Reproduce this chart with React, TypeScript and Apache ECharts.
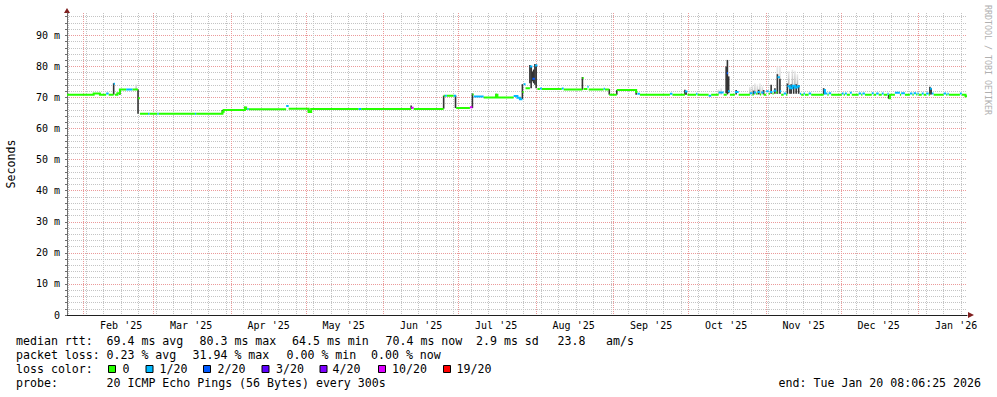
import React, { useEffect, useRef } from 'react';
import * as echarts from 'echarts';

// ---------- helpers ----------
const T = (s: string): number => {
  const [d, hm = '00:00'] = s.split(' ');
  const [Y, M, D] = d.split('-').map(Number);
  const [h, m] = hm.split(':').map(Number);
  return Date.UTC(Y, M - 1, D, h, m);
};
const DAY = 86400000;

// ---------- axis data ----------
const START = '2025-01-25 08:06';
const END = '2026-01-20 08:06';
const monthStarts = ['2025-02-01', '2025-03-01', '2025-04-01', '2025-05-01', '2025-06-01', '2025-07-01',
  '2025-08-01', '2025-09-01', '2025-10-01', '2025-11-01', '2025-12-01', '2026-01-01'];
const monthLabels = ["Feb '25", "Mar '25", "Apr '25", "May '25", "Jun '25", "Jul '25",
  "Aug '25", "Sep '25", "Oct '25", "Nov '25", "Dec '25", "Jan '26"];
const firstWeekLine = '2025-01-26';
const Y_MAX = 97.2;

// ---------- loss colours ----------
const lossLevels = [0, 1, 2, 3, 4, 10, 19];
const lossColors = ['#26ff00', '#00b8ff', '#0059ff', '#5e00ff', '#7e00ff', '#dd00ff', '#ff0000'];
const lossLabels = ['0', '1/20', '2/20', '3/20', '4/20', '10/20', '19/20'];

// ---------- median rtt steps [from, ms, lost pings] ----------
const medianWinter: [string, number, number][] = [
  ['2025-01-25 08:06', 70.9, 0], ['2025-02-05 00:00', 71.3, 0], ['2025-02-07 12:00', 70.9, 0],
  ['2025-02-10 00:00', 71.3, 1], ['2025-02-11 00:00', 70.9, 0], ['2025-02-13 00:00', 74.4, 1],
  ['2025-02-13 12:00', 70.9, 0], ['2025-02-14 12:00', 71.4, 0], ['2025-02-15 12:00', 72.6, 0],
  ['2025-02-18 00:00', 72.6, 1], ['2025-02-20 12:00', 72.6, 0], ['2025-02-22 18:00', 69.8, 0],
  ['2025-02-23 12:00', 64.8, 0], ['2025-02-26 18:00', 64.8, 1], ['2025-02-27 06:00', 64.8, 0],
  ['2025-03-02 12:00', 64.8, 1], ['2025-03-03 00:00', 64.8, 0], ['2025-03-17 12:00', 64.8, 1],
  ['2025-03-18 00:00', 64.8, 0], ['2025-03-28 12:00', 65.4, 0], ['2025-03-29 00:00', 66.0, 0],
];
const medianSpring: [string, number, number][] = [
  ['2025-04-06 12:00', 66.8, 0], ['2025-04-07 00:00', 66.3, 0], ['2025-04-07 12:00', 66.3, 1],
  ['2025-04-08 00:00', 66.2, 0], ['2025-04-23 00:00', 67.3, 1], ['2025-04-24 00:00', 66.4, 0],
  ['2025-05-02 00:00', 65.3, 0], ['2025-05-03 00:00', 66.3, 0], ['2025-05-22 00:00', 66.3, 1],
  ['2025-05-23 00:00', 66.3, 0], ['2025-06-12 00:00', 66.7, 10], ['2025-06-13 00:00', 66.3, 0],
  ['2025-06-25 00:00', 70.6, 0], ['2025-06-25 12:00', 70.6, 1], ['2025-06-26 06:00', 70.6, 0],
  ['2025-06-29 00:00', 70.6, 1], ['2025-06-30 00:00', 66.6, 0],
];
const medianSummer: [string, number, number][] = [
  ['2025-07-05 12:00', 66.9, 10], ['2025-07-06 12:00', 71.0, 0], ['2025-07-07 00:00', 70.3, 1],
  ['2025-07-11 00:00', 70.0, 0], ['2025-07-16 00:00', 70.9, 0], ['2025-07-16 12:00', 70.0, 0],
  ['2025-07-23 00:00', 70.5, 1], ['2025-07-24 12:00', 69.9, 1], ['2025-07-25 12:00', 69.4, 1],
  ['2025-07-26 12:00', 71.8, 0], ['2025-07-27 00:00', 74.3, 1], ['2025-07-27 18:00', 73.0, 0],
  ['2025-07-29 12:00', 80.0, 1], ['2025-07-30 12:00', 76.0, 2], ['2025-07-31 12:00', 80.3, 1],
  ['2025-08-01 12:00', 72.7, 0], ['2025-08-02 12:00', 72.9, 1], ['2025-08-03 06:00', 72.7, 0],
  ['2025-08-11 06:00', 72.9, 1], ['2025-08-12 00:00', 72.6, 0], ['2025-08-19 12:00', 76.3, 0],
  ['2025-08-20 00:00', 72.7, 0], ['2025-08-21 12:00', 73.5, 1], ['2025-08-22 00:00', 72.6, 0],
  ['2025-08-28 00:00', 72.8, 1], ['2025-08-28 12:00', 72.6, 0], ['2025-08-30 06:00', 70.9, 0],
  ['2025-09-02 06:00', 72.4, 0], ['2025-09-10 00:00', 71.8, 0], ['2025-09-10 12:00', 71.2, 1],
  ['2025-09-11 12:00', 70.9, 0],
];
const medianAutumn: [string, number, number][] = [
  ['2025-09-23 12:00', 71.2, 1], ['2025-09-24 12:00', 70.9, 0], ['2025-09-29 12:00', 71.9, 1],
  ['2025-09-30 12:00', 70.9, 0], ['2025-10-04 00:00', 71.2, 1], ['2025-10-04 12:00', 70.9, 0],
  ['2025-10-09 00:00', 70.6, 1], ['2025-10-10 00:00', 70.9, 0], ['2025-10-13 00:00', 71.6, 1],
  ['2025-10-15 00:00', 70.9, 0], ['2025-10-16 06:00', 77.8, 2], ['2025-10-16 18:00', 72.0, 1],
  ['2025-10-17 12:00', 70.9, 0], ['2025-10-19 12:00', 71.8, 1], ['2025-10-21 00:00', 70.9, 0],
  ['2025-10-25 12:00', 71.4, 1], ['2025-10-26 12:00', 70.9, 0], ['2025-10-27 00:00', 71.6, 1],
  ['2025-10-28 00:00', 71.2, 0], ['2025-10-28 12:00', 71.8, 1], ['2025-10-29 12:00', 71.0, 0],
  ['2025-10-30 00:00', 71.6, 1], ['2025-10-31 00:00', 70.9, 0], ['2025-11-01 00:00', 72.0, 1],
  ['2025-11-02 00:00', 71.2, 0], ['2025-11-02 12:00', 71.8, 1], ['2025-11-03 12:00', 71.3, 0],
  ['2025-11-04 00:00', 72.2, 1], ['2025-11-05 00:00', 71.6, 0], ['2025-11-05 12:00', 76.5, 1],
  ['2025-11-06 12:00', 72.0, 1], ['2025-11-07 00:00', 70.9, 0], ['2025-11-08 00:00', 71.3, 1],
  ['2025-11-09 00:00', 70.9, 0], ['2025-11-09 12:00', 73.6, 1], ['2025-11-10 12:00', 73.0, 1],
  ['2025-11-11 12:00', 73.8, 1], ['2025-11-12 12:00', 73.2, 1], ['2025-11-13 12:00', 73.6, 1],
  ['2025-11-14 12:00', 71.2, 1], ['2025-11-15 00:00', 70.9, 0], ['2025-11-16 00:00', 71.3, 1],
  ['2025-11-16 12:00', 70.9, 0], ['2025-11-18 00:00', 71.3, 1], ['2025-11-19 00:00', 70.9, 0],
  ['2025-11-24 00:00', 72.4, 1], ['2025-11-24 12:00', 71.3, 1], ['2025-11-25 12:00', 70.9, 0],
  ['2025-11-26 00:00', 71.4, 1], ['2025-11-27 00:00', 70.9, 0],
];
const medianWinter2: [string, number, number][] = [
  ['2025-12-01 06:00', 71.3, 1], ['2025-12-02 00:00', 70.9, 0], ['2025-12-02 12:00', 71.3, 1],
  ['2025-12-03 06:00', 70.9, 0], ['2025-12-04 12:00', 71.5, 1], ['2025-12-05 06:00', 70.9, 0],
  ['2025-12-08 00:00', 71.3, 1], ['2025-12-09 00:00', 70.9, 0], ['2025-12-09 12:00', 71.3, 1],
  ['2025-12-10 12:00', 70.9, 0], ['2025-12-13 06:00', 71.4, 1], ['2025-12-14 00:00', 70.9, 0],
  ['2025-12-15 00:00', 71.3, 1], ['2025-12-16 00:00', 70.9, 0], ['2025-12-17 06:00', 71.3, 1],
  ['2025-12-18 00:00', 70.9, 0], ['2025-12-19 12:00', 71.2, 1], ['2025-12-20 00:00', 69.8, 0],
  ['2025-12-20 12:00', 70.9, 0], ['2025-12-22 12:00', 71.5, 1], ['2025-12-24 12:00', 70.9, 0],
  ['2025-12-25 00:00', 71.4, 1], ['2025-12-26 12:00', 70.9, 0], ['2025-12-28 12:00', 71.3, 1],
  ['2025-12-29 12:00', 70.9, 0], ['2025-12-30 00:00', 71.4, 1], ['2025-12-31 00:00', 71.0, 0],
  ['2025-12-31 12:00', 71.3, 1], ['2026-01-01 00:00', 70.9, 0], ['2026-01-02 06:00', 71.3, 1],
  ['2026-01-03 00:00', 70.9, 0], ['2026-01-04 00:00', 71.3, 1], ['2026-01-05 00:00', 70.9, 0],
  ['2026-01-05 12:00', 72.8, 1], ['2026-01-06 06:00', 71.3, 1], ['2026-01-07 00:00', 70.9, 0],
  ['2026-01-11 00:00', 71.3, 1], ['2026-01-12 00:00', 70.9, 0], ['2026-01-12 12:00', 71.2, 1],
  ['2026-01-13 00:00', 70.9, 0], ['2026-01-17 12:00', 71.3, 1], ['2026-01-18 06:00', 70.9, 0],
  ['2026-01-19 18:00', 70.4, 0],
];

// ---------- smoke [time, low ms, high ms] ----------
const smokeDark: [string, number, number][] = [
  ['2025-02-13 00:00', 70.9, 74.6], ['2025-02-15 12:00', 70.9, 72.6], ['2025-02-22 18:00', 64.8, 72.6],
  ['2025-03-28 12:00', 64.8, 66.0], ['2025-04-06 12:00', 66.0, 67.0], ['2025-05-02 00:00', 65.2, 66.3],
  ['2025-06-12 00:00', 66.3, 67.4], ['2025-06-25 00:00', 66.4, 70.6], ['2025-06-29 18:00', 66.6, 70.6],
  ['2025-07-06 12:00', 66.6, 71.3], ['2025-07-16 00:00', 70.0, 71.2], ['2025-07-26 12:00', 69.5, 74.3],
  ['2025-07-29 12:00', 74.6, 80.5], ['2025-07-30 00:00', 73.0, 80.0], ['2025-07-30 12:00', 75.2, 78.4],
  ['2025-07-31 00:00', 74.6, 79.0], ['2025-07-31 12:00', 74.1, 80.8], ['2025-08-01 00:00', 73.0, 80.6],
  ['2025-08-19 12:00', 72.5, 76.6], ['2025-08-30 06:00', 70.9, 72.7], ['2025-09-02 06:00', 70.9, 72.4],
  ['2025-09-10 00:00', 70.9, 72.5], ['2025-09-29 12:00', 70.9, 72.5], ['2025-09-30 00:00', 70.9, 71.9],
  ['2025-10-16 00:00', 71.4, 80.0], ['2025-10-16 12:00', 71.0, 82.1], ['2025-10-17 00:00', 71.4, 76.8],
  ['2025-10-20 00:00', 71.0, 72.4], ['2025-10-27 00:00', 71.0, 72.2], ['2025-10-29 00:00', 71.0, 72.5],
  ['2025-10-31 00:00', 71.0, 72.4], ['2025-11-03 00:00', 71.2, 74.1], ['2025-11-04 12:00', 71.2, 73.0],
  ['2025-11-05 12:00', 71.2, 77.5], ['2025-11-06 12:00', 71.2, 76.0], ['2025-11-09 12:00', 71.2, 74.5],
  ['2025-11-10 12:00', 71.2, 74.0], ['2025-11-11 00:00', 71.2, 74.3], ['2025-11-12 00:00', 71.2, 74.0],
  ['2025-11-13 00:00', 71.2, 74.3], ['2025-11-14 00:00', 71.2, 74.0], ['2025-11-24 00:00', 71.0, 73.0],
  ['2025-12-20 00:00', 69.6, 70.9], ['2026-01-05 12:00', 71.0, 73.5], ['2026-01-06 00:00', 71.0, 73.0],
];
const smokeLight: [string, number, number][] = [
  ['2025-02-22 00:00', 72.6, 74.3], ['2025-10-13 00:00', 71.0, 72.6], ['2025-10-14 00:00', 71.0, 73.0],
  ['2025-10-25 12:00', 71.0, 73.5], ['2025-10-26 12:00', 71.0, 74.0], ['2025-10-27 12:00', 71.0, 74.6],
  ['2025-10-28 12:00', 71.0, 74.2], ['2025-10-29 12:00', 71.0, 74.6], ['2025-10-30 12:00', 71.0, 73.6],
  ['2025-11-05 12:00', 71.2, 80.0], ['2025-11-06 12:00', 71.2, 80.0], ['2025-11-10 00:00', 74.0, 78.5],
  ['2025-11-11 12:00', 74.0, 79.0], ['2025-11-12 12:00', 74.0, 78.6], ['2025-11-13 12:00', 74.0, 77.5],
];

// ---------- legend texts ----------
const rttLabel = 'median rtt:';
const rttStats = ['69.4 ms avg', '80.3 ms max', '64.5 ms min', '70.4 ms now', '2.9 ms sd', '23.8', 'am/s'];
const lossLabel = 'packet loss:';
const lossStats = ['0.23 % avg', '31.94 % max', '0.00 % min', '0.00 % now'];
const colorLabel = 'loss color:';
const probeLabel = 'probe:';
const probeText = '20 ICMP Echo Pings (56 Bytes) every 300s';
const endText = 'end: Tue Jan 20 08:06:25 2026';
const yTitle = 'Seconds';
const watermark = 'RRDTOOL / TOBI OETIKER';

// ---------- layout (positions only) ----------
const rttX = [106.5, 199.5, 292, 385.5, 476, 557.5, 606];
const lossX = [106.5, 192.5, 286.5, 371];
const boxX = [108.5, 146, 203.5, 262, 320, 378.5, 443.5];
const boxLabelX = [122.5, 159.5, 217.5, 276, 332.5, 392, 456.5];
const rowY = [341, 355, 369, 383];

const FONT = '"DejaVu Sans Mono", monospace';

export default function App() {
  const ref = useRef<HTMLDivElement>(null);

  useEffect(() => {
    if (!ref.current) return;
    const chart = echarts.init(ref.current, null, { renderer: 'svg' });

    const tStart = T(START);
    const tEnd = T(END);
    const median = [...medianWinter, ...medianSpring, ...medianSummer, ...medianAutumn, ...medianWinter2];

    const monthTimes = monthStarts.map(T);
    const labelTimes = monthTimes.map((t) => t + 15 * DAY);
    const weekTimes: number[] = [];
    for (let t = T(firstWeekLine); t < tEnd; t += 7 * DAY) weekTimes.push(t);

    const lossSeries = lossLevels.map((level, li) => {
      const data: any[] = [];
      let lastIdx = -2;
      for (let i = 0; i < median.length; i++) {
        const [d, v, l] = median[i];
        if (l !== level) continue;
        const t0 = T(d);
        const t1 = i + 1 < median.length ? T(median[i + 1][0]) : tEnd;
        const joined = lastIdx === i - 1 && Math.abs(median[i - 1][1] - v) <= 1.2;
        if (!joined && data.length) data.push([t0, '-']);
        data.push([t0, v], [t1, v]);
        lastIdx = i;
      }
      return {
        type: 'line',
        name: lossLabels[li],
        data,
        symbol: 'none',
        showSymbol: false,
        connectNulls: false,
        silent: true,
        z: 5,
        lineStyle: { width: 2, color: lossColors[li], cap: 'butt', join: 'miter' },
        itemStyle: { color: lossColors[li] },
      };
    });

    const smokeRender = (fill: any) => (params: any, api: any) => {
      const t = api.value(0);
      const top = api.coord([t, api.value(2)]);
      const bot = api.coord([t, api.value(1)]);
      const w = 1.6;
      return {
        type: 'rect',
        shape: { x: top[0] - w / 2, y: top[1], width: w, height: Math.max(1, bot[1] - top[1]) },
        style: { fill },
      };
    };

    const lightFill = new echarts.graphic.LinearGradient(0, 0, 0, 1, [
      { offset: 0, color: '#ececec' },
      { offset: 1, color: '#b4b4b4' },
    ]);

    const yColors: string[] = [];
    for (let v = 0; v <= 96; v += 2) yColors.push(v % 10 === 0 ? '#eb9a9a' : '#c4c4c4');

    const graphics: any[] = [];
    const txt = (x: number, y: number, text: string, opts: any = {}) => ({
      type: 'text',
      x,
      y,
      silent: true,
      rotation: opts.rotation || 0,
      style: {
        text,
        fill: opts.fill || '#000',
        font: `${opts.size || 11.6}px ${FONT}`,
        align: opts.align || 'left',
        verticalAlign: 'middle',
        textAlign: opts.align || 'left',
        textVerticalAlign: 'middle',
      },
    });
    graphics.push(txt(16, rowY[0], rttLabel));
    rttStats.forEach((s, i) => graphics.push(txt(rttX[i], rowY[0], s)));
    graphics.push(txt(16, rowY[1], lossLabel));
    lossStats.forEach((s, i) => graphics.push(txt(lossX[i], rowY[1], s)));
    graphics.push(txt(16, rowY[2], colorLabel));
    lossLabels.forEach((s, i) => {
      graphics.push({
        type: 'rect',
        silent: true,
        shape: { x: boxX[i], y: rowY[2] - 3.5, width: 7, height: 7 },
        style: { fill: lossColors[i], stroke: '#000', lineWidth: 1 },
      });
      graphics.push(txt(boxLabelX[i], rowY[2], s));
    });
    graphics.push(txt(16, rowY[3], probeLabel));
    graphics.push(txt(106.5, rowY[3], probeText));
    graphics.push(txt(981, rowY[3], endText, { align: 'right' }));
    graphics.push(txt(11, 164, yTitle, { align: 'center', rotation: Math.PI / 2 }));
    graphics.push(txt(988, 60, watermark, { align: 'center', rotation: -Math.PI / 2, size: 8.3, fill: '#b0b0b0' }));
    graphics.push({
      type: 'polygon', silent: true,
      shape: { points: [[64, 13], [70, 13], [67, 8]] },
      style: { fill: '#801f1f' },
    });
    graphics.push({
      type: 'polygon', silent: true,
      shape: { points: [[968, 312], [968, 318], [974, 315]] },
      style: { fill: '#801f1f' },
    });

    chart.setOption({
      animation: false,
      backgroundColor: '#ffffff',
      grid: { left: 67, top: 13, width: 900, height: 302, containLabel: false },
      xAxis: [
        {
          type: 'value',
          min: tStart,
          max: tEnd,
          position: 'bottom',
          axisLine: { show: true, lineStyle: { color: '#1f1f1f', width: 1 } },
          axisTick: { show: false, customValues: weekTimes },
          splitLine: {
            show: true,
            customValues: weekTimes,
            lineStyle: { color: '#c4c4c4', width: 1, type: [1, 1] },
          },
          axisLabel: {
            show: true,
            customValues: labelTimes,
            formatter: (v: number) => {
              const i = labelTimes.indexOf(v);
              return i >= 0 ? monthLabels[i] : '';
            },
            color: '#000',
            fontFamily: FONT,
            fontSize: 10,
            margin: 5,
          },
        },
        {
          type: 'value',
          min: tStart,
          max: tEnd,
          position: 'top',
          axisLine: { show: false },
          axisTick: { show: false, customValues: monthTimes },
          axisLabel: { show: false },
          splitLine: {
            show: true,
            customValues: monthTimes,
            lineStyle: { color: '#eb9a9a', width: 1, type: [1, 1] },
          },
        },
      ],
      yAxis: {
        type: 'value',
        min: 0,
        max: Y_MAX,
        interval: 2,
        axisLine: { show: true, lineStyle: { color: '#6e6e6e', width: 1 } },
        axisTick: { show: true, length: 2, lineStyle: { color: '#6e6e6e' } },
        splitLine: {
          show: true,
          showMinLine: true,
          showMaxLine: false,
          lineStyle: { color: yColors, width: 1, type: [1, 1] },
        },
        axisLabel: {
          color: '#000',
          fontFamily: FONT,
          fontSize: 10,
          margin: 7,
          showMaxLabel: false,
          formatter: (v: number) => {
            if (Math.abs(v % 10) > 1e-6) return '';
            return v === 0 ? '0' : `${v} m`;
          },
        },
      },
      series: [
        {
          type: 'custom',
          data: smokeLight.map(([d, lo, hi]) => [T(d), lo, hi]),
          encode: { x: 0, y: [1, 2] },
          renderItem: smokeRender(lightFill),
          silent: true,
          z: 3,
        },
        {
          type: 'custom',
          data: smokeDark.map(([d, lo, hi]) => [T(d), lo, hi]),
          encode: { x: 0, y: [1, 2] },
          renderItem: smokeRender('#333333'),
          silent: true,
          z: 4,
        },
        ...lossSeries,
      ],
      graphic: graphics,
    });

    return () => chart.dispose();
  }, []);

  return (
    <div
      ref={ref}
      style={{ position: 'fixed', left: 0, top: 0, width: 997, height: 397, background: '#fff' }}
    />
  );
}
